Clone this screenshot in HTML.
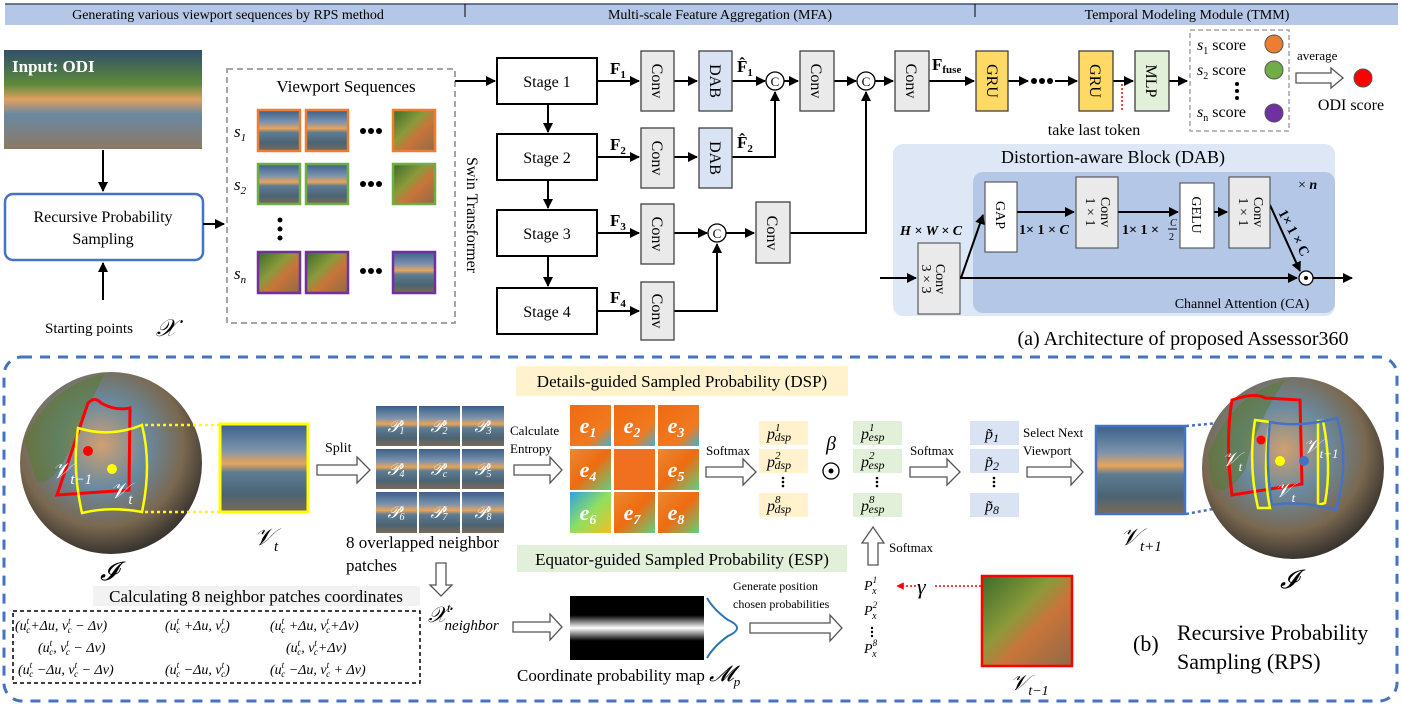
<!DOCTYPE html>
<html><head><meta charset="utf-8"><style>
html,body{margin:0;padding:0;background:#fff}
svg{display:block}
text{font-family:"Liberation Serif",serif;fill:#000}
</style></head><body>
<svg width="1402" height="707" viewBox="0 0 1402 707" xmlns="http://www.w3.org/2000/svg">
<defs>
<marker id="ar" viewBox="0 0 10 10" refX="9" refY="5" markerWidth="5" markerHeight="5" orient="auto"><path d="M0,0L10,5L0,10z" fill="#000"/></marker>
<marker id="arr" viewBox="0 0 10 10" refX="9" refY="5" markerWidth="5" markerHeight="5" orient="auto"><path d="M0,0L10,5L0,10z" fill="#f00"/></marker>
<linearGradient id="ph" x1="0" y1="0" x2="0" y2="1">
<stop offset="0" stop-color="#3b5f8a"/><stop offset="0.3" stop-color="#7d93ad"/><stop offset="0.45" stop-color="#e8a55a"/><stop offset="0.55" stop-color="#5e7c92"/><stop offset="0.8" stop-color="#4b6474"/><stop offset="1" stop-color="#7b6a55"/></linearGradient>
<linearGradient id="ph2" x1="0" y1="0" x2="1" y2="1">
<stop offset="0" stop-color="#3d6b2a"/><stop offset="0.4" stop-color="#8a9a3a"/><stop offset="0.6" stop-color="#c9743a"/><stop offset="1" stop-color="#8e6a48"/></linearGradient>
<linearGradient id="odi" x1="0" y1="0" x2="0" y2="1">
<stop offset="0" stop-color="#2f4f6a"/><stop offset="0.35" stop-color="#5f8a3a"/><stop offset="0.5" stop-color="#e0a060"/><stop offset="0.65" stop-color="#6a88a0"/><stop offset="1" stop-color="#8b7a65"/></linearGradient>
<radialGradient id="sph" cx="0.45" cy="0.4" r="0.6">
<stop offset="0" stop-color="#d0a070"/><stop offset="0.4" stop-color="#6a8aa0"/><stop offset="0.75" stop-color="#7a6850"/><stop offset="1" stop-color="#3a3530"/></radialGradient>
<linearGradient id="map" x1="0" y1="0" x2="0" y2="1">
<stop offset="0" stop-color="#000"/><stop offset="0.3" stop-color="#000"/><stop offset="0.5" stop-color="#fff"/><stop offset="0.7" stop-color="#000"/><stop offset="1" stop-color="#000"/></linearGradient>
<linearGradient id="ent1" x1="0" y1="0" x2="1" y2="1"><stop offset="0" stop-color="#f06a10"/><stop offset="0.7" stop-color="#f07a20"/><stop offset="1" stop-color="#40b0d0"/></linearGradient>
<linearGradient id="ent2" x1="0" y1="0" x2="1" y2="1"><stop offset="0" stop-color="#e88a30"/><stop offset="0.5" stop-color="#f06a10"/><stop offset="1" stop-color="#60d080"/></linearGradient>
<linearGradient id="ent3" x1="0" y1="0" x2="1" y2="1"><stop offset="0" stop-color="#30a0e0"/><stop offset="0.5" stop-color="#90e060"/><stop offset="1" stop-color="#f0c020"/></linearGradient>
</defs>

<!-- header -->
<rect x="5" y="4" width="1393" height="21" fill="#b4c7e7"/>
<line x1="5" y1="4" x2="1398" y2="4" stroke="#44546a" stroke-width="1.5"/>
<line x1="465" y1="4" x2="465" y2="17" stroke="#000"/>
<line x1="975" y1="4" x2="975" y2="17" stroke="#000"/>
<text x="228" y="19" font-size="14" text-anchor="middle">Generating  various  viewport  sequences  by RPS method</text>
<text x="720" y="19" font-size="14" text-anchor="middle">Multi-scale Feature Aggregation (MFA)</text>
<text x="1187" y="19" font-size="14" text-anchor="middle">Temporal Modeling Module (TMM)</text>

<!-- ODI -->
<rect x="4" y="50" width="198" height="99" fill="url(#odi)"/>
<text x="12" y="72" font-size="17" font-weight="bold" style="fill:#fff">Input: ODI</text>
<line x1="103" y1="150" x2="103" y2="191" stroke="#000" stroke-width="2" marker-end="url(#ar)"/>
<rect x="5" y="194" width="198" height="66" rx="8" fill="#fff" stroke="#4472c4" stroke-width="2.5"/>
<text x="103" y="222" font-size="16" text-anchor="middle">Recursive Probability</text>
<text x="103" y="244" font-size="16" text-anchor="middle">Sampling</text>
<line x1="103" y1="300" x2="103" y2="263" stroke="#000" stroke-width="2" marker-end="url(#ar)"/>
<text x="45" y="333" font-size="15">Starting points</text>
<text x="156" y="336" font-size="24" font-style="italic">𝒳</text>
<line x1="203" y1="224" x2="224" y2="224" stroke="#000" stroke-width="2" marker-end="url(#ar)"/>

<!-- Viewport sequences -->
<rect x="227" y="69" width="228" height="254" fill="none" stroke="#a6a6a6" stroke-width="2" stroke-dasharray="6,4"/>
<text x="346" y="92" font-size="17" text-anchor="middle">Viewport Sequences</text>
<g font-size="17" font-style="italic">
<text x="234" y="137">s<tspan font-size="11" dy="4">1</tspan></text>
<text x="234" y="190">s<tspan font-size="11" dy="4">2</tspan></text>
<text x="234" y="279">s<tspan font-size="11" dy="4">n</tspan></text>
</g>
<g stroke-width="2.5">
<rect x="258" y="110" width="42" height="41" fill="url(#ph)" stroke="#ed7d31"/>
<rect x="306" y="110" width="42" height="41" fill="url(#ph)" stroke="#ed7d31"/>
<rect x="393" y="110" width="42" height="41" fill="url(#ph2)" stroke="#ed7d31"/>
<rect x="258" y="164" width="42" height="40" fill="url(#ph)" stroke="#70ad47"/>
<rect x="306" y="164" width="42" height="40" fill="url(#ph)" stroke="#70ad47"/>
<rect x="393" y="164" width="42" height="40" fill="url(#ph2)" stroke="#70ad47"/>
<rect x="258" y="252" width="42" height="41" fill="url(#ph2)" stroke="#7030a0"/>
<rect x="306" y="252" width="42" height="41" fill="url(#ph2)" stroke="#7030a0"/>
<rect x="393" y="252" width="42" height="41" fill="url(#ph)" stroke="#7030a0"/>
</g>
<g fill="#000">
<circle cx="363" cy="131" r="3"/><circle cx="371" cy="131" r="3"/><circle cx="379" cy="131" r="3"/>
<circle cx="363" cy="184" r="3"/><circle cx="371" cy="184" r="3"/><circle cx="379" cy="184" r="3"/>
<circle cx="363" cy="271" r="3"/><circle cx="371" cy="271" r="3"/><circle cx="379" cy="271" r="3"/>
<circle cx="280" cy="220" r="2.5"/><circle cx="280" cy="229" r="2.5"/><circle cx="280" cy="238" r="2.5"/>
</g>
<line x1="455" y1="81" x2="495" y2="81" stroke="#000" stroke-width="2" marker-end="url(#ar)"/>
<text transform="translate(467,215) rotate(90)" font-size="16" text-anchor="middle">Swin Transformer</text>

<!-- Stages -->
<g fill="#fff" stroke="#000" stroke-width="2">
<rect x="497" y="58" width="100" height="46"/>
<rect x="497" y="134" width="100" height="46"/>
<rect x="497" y="210" width="100" height="46"/>
<rect x="497" y="288" width="100" height="46"/>
</g>
<g font-size="16" text-anchor="middle">
<text x="547" y="87">Stage 1</text><text x="547" y="163">Stage 2</text><text x="547" y="239">Stage 3</text><text x="547" y="317">Stage 4</text>
</g>
<g stroke="#000" stroke-width="2" marker-end="url(#ar)">
<line x1="548" y1="104" x2="548" y2="132"/><line x1="548" y1="180" x2="548" y2="208"/><line x1="548" y1="256" x2="548" y2="286"/>
<line x1="597" y1="81" x2="639" y2="81"/><line x1="597" y1="157" x2="639" y2="157"/><line x1="597" y1="233" x2="639" y2="233"/><line x1="597" y1="311" x2="639" y2="311"/>
<line x1="674" y1="81" x2="697" y2="81"/><line x1="674" y1="157" x2="697" y2="157"/>
<line x1="674" y1="233" x2="707" y2="233"/>
<line x1="732" y1="81" x2="765" y2="81"/>
<line x1="784" y1="81" x2="798" y2="81"/>
<line x1="834" y1="81" x2="856" y2="81"/>
<line x1="875" y1="81" x2="893" y2="81"/>
<line x1="726" y1="233" x2="754" y2="233"/>
<line x1="929" y1="81" x2="974" y2="81"/>
<line x1="1008" y1="81" x2="1028" y2="81"/>
<line x1="1055" y1="81" x2="1077" y2="81"/>
<line x1="1113" y1="81" x2="1133" y2="81"/>
<line x1="1169" y1="81" x2="1187" y2="81"/>
</g>
<g fill="none" stroke="#000" stroke-width="2">
<polyline points="732,157 775,157 775,92" marker-end="url(#ar)"/>
<polyline points="790,233 866,233 866,92" marker-end="url(#ar)"/>
<polyline points="674,311 717,311 717,244" marker-end="url(#ar)"/>
</g>
<g font-size="17" font-weight="bold">
<text x="610" y="74">F<tspan font-size="11" dy="4">1</tspan></text>
<text x="610" y="150">F<tspan font-size="11" dy="4">2</tspan></text>
<text x="610" y="226">F<tspan font-size="11" dy="4">3</tspan></text>
<text x="610" y="303">F<tspan font-size="11" dy="4">4</tspan></text>
<text x="737" y="72">F̂<tspan font-size="11" dy="4">1</tspan></text>
<text x="737" y="148">F̂<tspan font-size="11" dy="4">2</tspan></text>
<text x="932" y="70">F<tspan font-size="11" dy="3">fuse</tspan></text>
</g>
<g fill="#eaeaea" stroke="#404040" stroke-width="1.3">
<rect x="641" y="51" width="33" height="60"/><rect x="641" y="128" width="33" height="60"/><rect x="641" y="204" width="33" height="60"/><rect x="641" y="282" width="33" height="58"/>
<rect x="800" y="51" width="34" height="60"/><rect x="895" y="51" width="34" height="60"/><rect x="756" y="202" width="34" height="61"/>
</g>
<g fill="#dae3f3" stroke="#404040" stroke-width="1.3">
<rect x="699" y="51" width="33" height="60"/><rect x="699" y="128" width="33" height="60"/>
</g>
<rect x="976" y="51" width="32" height="60" fill="#ffd966" stroke="#404040" stroke-width="1.3"/>
<rect x="1079" y="51" width="34" height="60" fill="#ffd966" stroke="#404040" stroke-width="1.3"/>
<rect x="1135" y="51" width="34" height="60" fill="#e2f0d9" stroke="#404040" stroke-width="1.3"/>
<g font-size="16" text-anchor="middle">
<text transform="translate(652,81) rotate(90)">Conv</text>
<text transform="translate(652,158) rotate(90)">Conv</text>
<text transform="translate(652,234) rotate(90)">Conv</text>
<text transform="translate(652,311) rotate(90)">Conv</text>
<text transform="translate(811,81) rotate(90)">Conv</text>
<text transform="translate(906,81) rotate(90)">Conv</text>
<text transform="translate(767,233) rotate(90)">Conv</text>
<text transform="translate(710,81) rotate(90)">DAB</text>
<text transform="translate(710,158) rotate(90)">DAB</text>
<text transform="translate(987,81) rotate(90)">GRU</text>
<text transform="translate(1090,81) rotate(90)">GRU</text>
<text transform="translate(1146,81) rotate(90)">MLP</text>
</g>
<g fill="#fff" stroke="#000" stroke-width="1.3">
<circle cx="775" cy="81" r="9"/><circle cx="866" cy="81" r="9"/><circle cx="717" cy="233" r="9"/>
</g>
<g font-size="13" text-anchor="middle"><text x="775" y="86">C</text><text x="866" y="86">C</text><text x="717" y="238">C</text></g>
<g fill="#000"><circle cx="1034" cy="81" r="3"/><circle cx="1042" cy="81" r="3"/><circle cx="1050" cy="81" r="3"/></g>
<line x1="1122" y1="84" x2="1122" y2="112" stroke="#f00" stroke-width="1.5" stroke-dasharray="2,2"/>
<text x="1094" y="135" font-size="16" text-anchor="middle">take last token</text>

<!-- scores -->
<rect x="1190" y="30" width="99" height="101" fill="none" stroke="#a6a6a6" stroke-width="1.5" stroke-dasharray="5,3"/>
<g font-size="16">
<text x="1197" y="50"><tspan font-style="italic">s</tspan><tspan font-size="10" dy="4">1</tspan><tspan dy="-4"> score</tspan></text>
<text x="1197" y="75"><tspan font-style="italic">s</tspan><tspan font-size="10" dy="4">2</tspan><tspan dy="-4"> score</tspan></text>
<text x="1197" y="117"><tspan font-style="italic">s</tspan><tspan font-size="10" dy="4">n</tspan><tspan dy="-4"> score</tspan></text>
</g>
<g fill="#000"><circle cx="1237" cy="84" r="2"/><circle cx="1237" cy="91" r="2"/><circle cx="1237" cy="98" r="2"/></g>
<circle cx="1274" cy="44" r="9" fill="#ed7d31" stroke="#555"/>
<circle cx="1274" cy="70" r="9" fill="#70ad47" stroke="#555"/>
<circle cx="1274" cy="113" r="9" fill="#7030a0" stroke="#555"/>
<text x="1297" y="60" font-size="13">average</text>
<polygon points="1296,73 1331,73 1331,68 1343,78 1331,88 1331,83 1296,83" fill="#fff" stroke="#555" stroke-width="1.3"/>
<circle cx="1363" cy="78" r="9" fill="#f00" stroke="#555"/>
<text x="1351" y="110" font-size="16" text-anchor="middle">ODI score</text>

<!-- DAB panel -->
<rect x="893" y="144" width="442" height="172" rx="10" fill="#dee7f5"/>
<rect x="973" y="172" width="362" height="141" rx="10" fill="#b4c7e7"/>
<text x="1113" y="163" font-size="18" text-anchor="middle">Distortion-aware Block (DAB)</text>
<text x="900" y="235" font-size="14" font-weight="bold" font-style="italic">H × W × C</text>
<rect x="918" y="243" width="42" height="71" fill="#eaeaea" stroke="#404040"/>
<text transform="translate(936,279) rotate(90)" font-size="14" text-anchor="middle">Conv</text>
<text transform="translate(922,279) rotate(90)" font-size="14" text-anchor="middle">3 × 3</text>
<g stroke="#000" stroke-width="2" fill="none">
<line x1="880" y1="278" x2="916" y2="278" marker-end="url(#ar)"/>
<line x1="960" y1="278" x2="1297" y2="278" marker-end="url(#ar)"/>
<line x1="961" y1="278" x2="983" y2="215" marker-end="url(#ar)"/>
<line x1="1017" y1="212" x2="1074" y2="212" marker-end="url(#ar)"/>
<line x1="1118" y1="212" x2="1178" y2="212" marker-end="url(#ar)"/>
<line x1="1214" y1="212" x2="1227" y2="212" marker-end="url(#ar)"/>
<line x1="1270" y1="205" x2="1300" y2="271" marker-end="url(#ar)"/>
<line x1="1313" y1="278" x2="1352" y2="278" marker-end="url(#ar)"/>
</g>
<circle cx="1306" cy="278" r="7" fill="#fff" stroke="#000" stroke-width="1.3"/><circle cx="1306" cy="278" r="2" fill="#000"/>
<rect x="985" y="182" width="32" height="70" fill="#fff" stroke="#404040"/>
<rect x="1076" y="177" width="42" height="71" fill="#eaeaea" stroke="#404040"/>
<rect x="1180" y="183" width="34" height="65" fill="#fff" stroke="#404040"/>
<rect x="1229" y="177" width="41" height="71" fill="#eaeaea" stroke="#404040"/>
<g font-size="14" text-anchor="middle">
<text transform="translate(996,215) rotate(90)">GAP</text>
<text transform="translate(1101,212) rotate(90)">Conv</text>
<text transform="translate(1086,212) rotate(90)">1 × 1</text>
<text transform="translate(1192,215) rotate(90)">GELU</text>
<text transform="translate(1254,212) rotate(90)">Conv</text>
<text transform="translate(1239,212) rotate(90)">1 × 1</text>
</g>
<text x="1019" y="234" font-size="14" font-weight="bold">1× 1 × <tspan font-style="italic">C</tspan></text>
<text x="1122" y="234" font-size="14" font-weight="bold">1× 1 ×</text>
<text x="1170" y="226" font-size="10" font-style="italic">C</text><line x1="1168" y1="229" x2="1177" y2="229" stroke="#000"/><text x="1169" y="240" font-size="10">2</text>
<text transform="translate(1290,235) rotate(62)" font-size="14" font-weight="bold" text-anchor="middle">1× 1 × C</text>
<text x="1298" y="189" font-size="14">× <tspan font-weight="bold" font-style="italic">n</tspan></text>
<text x="1242" y="308" font-size="14" text-anchor="middle">Channel  Attention  (CA)</text>
<text x="1183" y="345" font-size="20" text-anchor="middle">(a) Architecture of proposed Assessor360</text>

<!-- Part b border -->
<rect x="4" y="357" width="1393" height="344" rx="18" fill="none" stroke="#4472c4" stroke-width="3" stroke-dasharray="10,8"/>

<!-- left sphere -->
<circle cx="111" cy="463" r="91" fill="url(#sph)"/>
<path d="M24,440 Q50,385 105,374 Q85,410 70,450 Q50,490 36,480Z" fill="#5a7a30" opacity="0.55"/>
<path d="M88,403 Q95,396 101,403 Q115,411 130,408 L129,490 L57,495 Z" fill="none" stroke="#f00" stroke-width="3"/>
<path d="M78,428 Q110,438 142,425 Q152,465 142,512 Q110,506 82,513 Q72,470 78,428Z" fill="none" stroke="#ff0" stroke-width="2.5"/>
<circle cx="88" cy="451" r="5" fill="#f00"/><circle cx="112" cy="469" r="5" fill="#ff0"/>
<text x="52" y="478" font-size="22" font-style="italic" style="fill:#fff">𝒱<tspan font-size="15" dy="6">t−1</tspan></text>
<text x="110" y="498" font-size="22" font-style="italic" style="fill:#fff">𝒱<tspan font-size="15" dy="6">t</tspan></text>
<line x1="145" y1="425" x2="219" y2="425" stroke="#ff0" stroke-width="2.5" stroke-dasharray="3,3"/>
<line x1="145" y1="512" x2="219" y2="512" stroke="#ff0" stroke-width="2.5" stroke-dasharray="3,3"/>
<rect x="220" y="424" width="88" height="88" fill="url(#ph)" stroke="#ff0" stroke-width="3"/>
<text x="254" y="545" font-size="24" font-style="italic">𝒱<tspan font-size="15" dy="6">t</tspan></text>
<text x="100" y="580" font-size="26" font-style="italic">𝓘</text>

<polygon points="317,465 357,465 357,457 370,470 357,483 357,475 317,475" fill="#fff" stroke="#555" stroke-width="1.3"/>
<text x="325" y="452" font-size="14">Split</text>

<!-- patch grid -->
<g fill="url(#ph)">
<rect x="376" y="406" width="41" height="40"/><rect x="419" y="406" width="41" height="40"/><rect x="462" y="406" width="42" height="40"/>
<rect x="376" y="449" width="41" height="40"/><rect x="419" y="449" width="41" height="40"/><rect x="462" y="449" width="42" height="40"/>
<rect x="376" y="492" width="41" height="41"/><rect x="419" y="492" width="41" height="41"/><rect x="462" y="492" width="42" height="41"/>
</g>
<g font-size="17" font-style="italic" text-anchor="middle">
<text x="396" y="432" style="fill:#fff">𝒫<tspan font-size="10" dy="-6">t</tspan><tspan font-size="10" dx="-3" dy="8">1</tspan></text>
<text x="439" y="432" style="fill:#fff">𝒫<tspan font-size="10" dy="-6">t</tspan><tspan font-size="10" dx="-3" dy="8">2</tspan></text>
<text x="483" y="432" style="fill:#fff">𝒫<tspan font-size="10" dy="-6">t</tspan><tspan font-size="10" dx="-3" dy="8">3</tspan></text>
<text x="396" y="475" style="fill:#fff">𝒫<tspan font-size="10" dy="-6">t</tspan><tspan font-size="10" dx="-3" dy="8">4</tspan></text>
<text x="439" y="475" style="fill:#fff">𝒫<tspan font-size="10" dy="-6">t</tspan><tspan font-size="10" dx="-3" dy="8">c</tspan></text>
<text x="483" y="475" style="fill:#fff">𝒫<tspan font-size="10" dy="-6">t</tspan><tspan font-size="10" dx="-3" dy="8">5</tspan></text>
<text x="396" y="518" style="fill:#fff">𝒫<tspan font-size="10" dy="-6">t</tspan><tspan font-size="10" dx="-3" dy="8">6</tspan></text>
<text x="439" y="518" style="fill:#fff">𝒫<tspan font-size="10" dy="-6">t</tspan><tspan font-size="10" dx="-3" dy="8">7</tspan></text>
<text x="483" y="518" style="fill:#fff">𝒫<tspan font-size="10" dy="-6">t</tspan><tspan font-size="10" dx="-3" dy="8">8</tspan></text>
</g>
<text x="346" y="548" font-size="17">8 overlapped neighbor</text>
<text x="346" y="571" font-size="17">patches</text>
<polygon points="436,563 446,563 446,585 452,585 441,596 430,585 436,585" fill="#fff" stroke="#555" stroke-width="1.3"/>

<text x="510" y="435" font-size="13">Calculate</text>
<text x="510" y="453" font-size="13">Entropy</text>
<polygon points="514,465 550,465 550,457 562,470 550,483 550,475 514,475" fill="#fff" stroke="#555" stroke-width="1.3"/>

<!-- entropy grid -->
<rect x="516" y="366" width="332" height="30" fill="#fff2cc"/>
<text x="682" y="387" font-size="17" text-anchor="middle">Details-guided  Sampled Probability (DSP)</text>
<g>
<rect x="570" y="405" width="41" height="41" fill="url(#ent1)"/><rect x="614" y="405" width="41" height="41" fill="url(#ent1)"/><rect x="658" y="405" width="41" height="41" fill="url(#ent1)"/>
<rect x="570" y="449" width="41" height="41" fill="url(#ent2)"/><rect x="614" y="449" width="41" height="41" fill="#f07020"/><rect x="658" y="449" width="41" height="41" fill="url(#ent2)"/>
<rect x="570" y="492" width="41" height="41" fill="url(#ent3)"/><rect x="614" y="492" width="41" height="41" fill="url(#ent2)"/><rect x="658" y="492" width="41" height="41" fill="url(#ent2)"/>
</g>
<g font-size="22" font-style="italic" font-weight="bold" text-anchor="middle">
<text x="588" y="433" style="fill:#fff">e<tspan font-size="14" dy="4">1</tspan></text>
<text x="632" y="433" style="fill:#fff">e<tspan font-size="14" dy="4">2</tspan></text>
<text x="676" y="433" style="fill:#fff">e<tspan font-size="14" dy="4">3</tspan></text>
<text x="588" y="477" style="fill:#fff">e<tspan font-size="14" dy="4">4</tspan></text>
<text x="676" y="477" style="fill:#fff">e<tspan font-size="14" dy="4">5</tspan></text>
<text x="588" y="520" style="fill:#fff">e<tspan font-size="14" dy="4">6</tspan></text>
<text x="632" y="520" style="fill:#fff">e<tspan font-size="14" dy="4">7</tspan></text>
<text x="676" y="520" style="fill:#fff">e<tspan font-size="14" dy="4">8</tspan></text>
</g>

<text x="706" y="455" font-size="13">Softmax</text>
<polygon points="706,467 743,467 743,459 756,472 743,485 743,477 706,477" fill="#fff" stroke="#555" stroke-width="1.3"/>

<!-- prob columns -->
<g fill="#fff2cc"><rect x="759" y="421" width="49" height="24"/><rect x="759" y="449" width="49" height="24"/><rect x="759" y="493" width="49" height="24"/></g>
<g fill="#e2f0d9"><rect x="853" y="421" width="49" height="24"/><rect x="853" y="449" width="49" height="24"/><rect x="853" y="493" width="49" height="24"/></g>
<g fill="#dae3f3"><rect x="970" y="421" width="49" height="24"/><rect x="970" y="449" width="49" height="24"/><rect x="970" y="493" width="49" height="24"/></g>
<g font-size="16" font-style="italic">
<text x="767" y="439">p<tspan font-size="11" dy="-8">1</tspan><tspan font-size="12" dx="-6" dy="10">dsp</tspan></text>
<text x="767" y="467">p<tspan font-size="11" dy="-8">2</tspan><tspan font-size="12" dx="-6" dy="10">dsp</tspan></text>
<text x="767" y="511">p<tspan font-size="11" dy="-8">8</tspan><tspan font-size="12" dx="-6" dy="10">dsp</tspan></text>
<text x="861" y="439">p<tspan font-size="11" dy="-8">1</tspan><tspan font-size="12" dx="-6" dy="10">esp</tspan></text>
<text x="861" y="467">p<tspan font-size="11" dy="-8">2</tspan><tspan font-size="12" dx="-6" dy="10">esp</tspan></text>
<text x="861" y="511">p<tspan font-size="11" dy="-8">8</tspan><tspan font-size="12" dx="-6" dy="10">esp</tspan></text>
<text x="985" y="439">p̃<tspan font-size="12" dy="3">1</tspan></text>
<text x="985" y="467">p̃<tspan font-size="12" dy="3">2</tspan></text>
<text x="985" y="511">p̃<tspan font-size="12" dy="3">8</tspan></text>
</g>
<g fill="#000">
<circle cx="783" cy="478" r="1.3"/><circle cx="783" cy="482" r="1.3"/><circle cx="783" cy="486" r="1.3"/>
<circle cx="877" cy="478" r="1.3"/><circle cx="877" cy="482" r="1.3"/><circle cx="877" cy="486" r="1.3"/>
<circle cx="994" cy="478" r="1.3"/><circle cx="994" cy="482" r="1.3"/><circle cx="994" cy="486" r="1.3"/>
</g>
<text x="831" y="450" font-size="20" font-style="italic" text-anchor="middle">β</text>
<circle cx="831" cy="471" r="8" fill="#fff" stroke="#000" stroke-width="1.3"/><circle cx="831" cy="471" r="2.5" fill="#000"/>

<text x="910" y="455" font-size="13">Softmax</text>
<polygon points="910,467 947,467 947,459 960,472 947,485 947,477 910,477" fill="#fff" stroke="#555" stroke-width="1.3"/>
<text x="1023" y="437" font-size="13">Select Next</text>
<text x="1023" y="455" font-size="13">Viewport</text>
<polygon points="1027,467 1071,467 1071,459 1083,472 1071,485 1071,477 1027,477" fill="#fff" stroke="#555" stroke-width="1.3"/>

<rect x="1096" y="426" width="89" height="88" fill="url(#ph)" stroke="#4472c4" stroke-width="2.5"/>
<line x1="1186" y1="426" x2="1240" y2="421" stroke="#4472c4" stroke-width="2.5" stroke-dasharray="3,3"/>
<line x1="1186" y1="514" x2="1240" y2="504" stroke="#4472c4" stroke-width="2.5" stroke-dasharray="3,3"/>
<text x="1120" y="545" font-size="24" font-style="italic">𝒱<tspan font-size="15" dy="6">t+1</tspan></text>

<!-- right sphere -->
<circle cx="1293" cy="468" r="91" fill="url(#sph)"/>
<path d="M1208,455 Q1230,395 1285,380 Q1255,425 1245,470 Q1225,500 1212,485Z" fill="#5a7a30" opacity="0.55"/>
<path d="M1232,400 Q1255,392 1265,398 L1300,400 L1302,484 L1232,495 Q1225,440 1232,400Z" fill="none" stroke="#f00" stroke-width="3"/>
<path d="M1255,420 L1270,422 Q1262,470 1270,508 L1258,508 Q1248,465 1255,420Z" fill="none" stroke="#ff0" stroke-width="2.5"/>
<path d="M1318,421 L1323,421 Q1332,465 1325,503 L1318,505Z" fill="none" stroke="#ff0" stroke-width="2.5"/>
<path d="M1270,422 Q1300,428 1337,418 Q1350,460 1336,510 Q1300,500 1272,505 Q1265,465 1270,422Z" fill="none" stroke="#4472c4" stroke-width="2.5"/>
<circle cx="1261" cy="440" r="4.5" fill="#f00"/><circle cx="1280" cy="461" r="5" fill="#ff0"/><circle cx="1304" cy="461" r="5" fill="#4472c4"/>
<text x="1222" y="466" font-size="20" font-style="italic" style="fill:#fff">𝒱<tspan font-size="13" dy="5">t</tspan></text>
<text x="1303" y="453" font-size="20" font-style="italic" style="fill:#fff">𝒱<tspan font-size="13" dy="5">t+1</tspan></text>
<text x="1275" y="497" font-size="20" font-style="italic" style="fill:#fff">𝒱<tspan font-size="13" dy="5">t</tspan></text>
<text x="1280" y="588" font-size="26" font-style="italic">𝓘</text>

<!-- ESP -->
<rect x="517" y="545" width="330" height="27" fill="#e2f0d9"/>
<text x="682" y="565" font-size="17" text-anchor="middle">Equator-guided Sampled Probability (ESP)</text>
<polygon points="868,565 878,565 878,543 884,543 873,527 862,543 868,543" fill="#fff" stroke="#555" stroke-width="1.3"/>
<text x="889" y="552" font-size="13">Softmax</text>

<rect x="93" y="586" width="327" height="20" fill="#f2f2f2"/>
<text x="256" y="602" font-size="17" text-anchor="middle">Calculating  8 neighbor patches coordinates</text>
<rect x="13" y="611" width="407" height="72" fill="none" stroke="#000" stroke-width="1.5" stroke-dasharray="4,3"/>
<g font-size="14" font-style="italic">
<text x="15" y="630">(u<tspan font-size="9" dy="-6">t</tspan><tspan font-size="9" dx="-3" dy="9">c</tspan><tspan dy="-3">+Δu, v</tspan><tspan font-size="9" dy="-6">t</tspan><tspan font-size="9" dx="-3" dy="9">c</tspan><tspan dy="-3"> − Δv)</tspan></text>
<text x="165" y="630">(u<tspan font-size="9" dy="-6">t</tspan><tspan font-size="9" dx="-3" dy="9">c</tspan><tspan dy="-3"> +Δu, v</tspan><tspan font-size="9" dy="-6">t</tspan><tspan font-size="9" dx="-3" dy="9">c</tspan><tspan dy="-3">)</tspan></text>
<text x="270" y="630">(u<tspan font-size="9" dy="-6">t</tspan><tspan font-size="9" dx="-3" dy="9">c</tspan><tspan dy="-3"> +Δu, v</tspan><tspan font-size="9" dy="-6">t</tspan><tspan font-size="9" dx="-3" dy="9">c</tspan><tspan dy="-3">+Δv)</tspan></text>
<text x="38" y="652">(u<tspan font-size="9" dy="-6">t</tspan><tspan font-size="9" dx="-3" dy="9">c</tspan><tspan dy="-3">, v</tspan><tspan font-size="9" dy="-6">t</tspan><tspan font-size="9" dx="-3" dy="9">c</tspan><tspan dy="-3"> − Δv)</tspan></text>
<text x="286" y="652">(u<tspan font-size="9" dy="-6">t</tspan><tspan font-size="9" dx="-3" dy="9">c</tspan><tspan dy="-3">, v</tspan><tspan font-size="9" dy="-6">t</tspan><tspan font-size="9" dx="-3" dy="9">c</tspan><tspan dy="-3">+Δv)</tspan></text>
<text x="18" y="674">(u<tspan font-size="9" dy="-6">t</tspan><tspan font-size="9" dx="-3" dy="9">c</tspan><tspan dy="-3"> −Δu, v</tspan><tspan font-size="9" dy="-6">t</tspan><tspan font-size="9" dx="-3" dy="9">c</tspan><tspan dy="-3"> − Δv)</tspan></text>
<text x="165" y="674">(u<tspan font-size="9" dy="-6">t</tspan><tspan font-size="9" dx="-3" dy="9">c</tspan><tspan dy="-3"> −Δu, v</tspan><tspan font-size="9" dy="-6">t</tspan><tspan font-size="9" dx="-3" dy="9">c</tspan><tspan dy="-3">)</tspan></text>
<text x="270" y="674">(u<tspan font-size="9" dy="-6">t</tspan><tspan font-size="9" dx="-3" dy="9">c</tspan><tspan dy="-3"> −Δu, v</tspan><tspan font-size="9" dy="-6">t</tspan><tspan font-size="9" dx="-3" dy="9">c</tspan><tspan dy="-3"> + Δv)</tspan></text>
</g>
<text x="428" y="622" font-size="22" font-style="italic">𝒳<tspan font-size="13" dy="-10">t</tspan><tspan font-size="15" dx="-6" dy="18">neighbor</tspan></text>
<polygon points="513,622 550,622 550,614 562,627 550,640 550,632 513,632" fill="#fff" stroke="#555" stroke-width="1.3"/>

<rect x="570" y="596" width="134" height="64" fill="url(#map)"/>
<path d="M707,598 Q714,610 728,620 Q746,628 728,636 Q714,646 707,658" fill="none" stroke="#2e75b6" stroke-width="2"/>
<text x="517" y="681" font-size="17">Coordinate probability map <tspan font-size="22" font-style="italic">𝓜</tspan><tspan font-size="13" font-style="italic" dy="5">p</tspan></text>
<text x="733" y="590" font-size="12">Generate position</text>
<text x="733" y="608" font-size="12">chosen probabilities</text>
<polygon points="750,623 830,623 830,615 842,628 830,641 830,633 750,633" fill="#fff" stroke="#555" stroke-width="1.3"/>

<g font-size="14" font-style="italic">
<text x="864" y="590">P<tspan font-size="9" dy="-7">1</tspan><tspan font-size="10" dx="-5" dy="11">x</tspan></text>
<text x="864" y="615">P<tspan font-size="9" dy="-7">2</tspan><tspan font-size="10" dx="-5" dy="11">x</tspan></text>
<text x="864" y="653">P<tspan font-size="9" dy="-7">8</tspan><tspan font-size="10" dx="-5" dy="11">x</tspan></text>
</g>
<g fill="#000"><circle cx="872" cy="628" r="1.2"/><circle cx="872" cy="632" r="1.2"/><circle cx="872" cy="636" r="1.2"/></g>
<line x1="916" y1="586" x2="897" y2="586" stroke="#f00" stroke-width="1.5" stroke-dasharray="2,2" marker-end="url(#arr)"/>
<text x="917" y="594" font-size="22" font-style="italic">γ</text>
<line x1="981" y1="586" x2="934" y2="586" stroke="#f00" stroke-width="1.5" stroke-dasharray="2,2"/>
<rect x="982" y="576" width="90" height="90" fill="url(#ph2)" stroke="#f00" stroke-width="2.5"/>
<text x="1010" y="690" font-size="22" font-style="italic">𝒱<tspan font-size="14" dy="5">t−1</tspan></text>

<text x="1133" y="651" font-size="22">(b)</text>
<text x="1177" y="640" font-size="22">Recursive Probability</text>
<text x="1177" y="669" font-size="22">Sampling  (RPS)</text>
</svg>
</body></html>
